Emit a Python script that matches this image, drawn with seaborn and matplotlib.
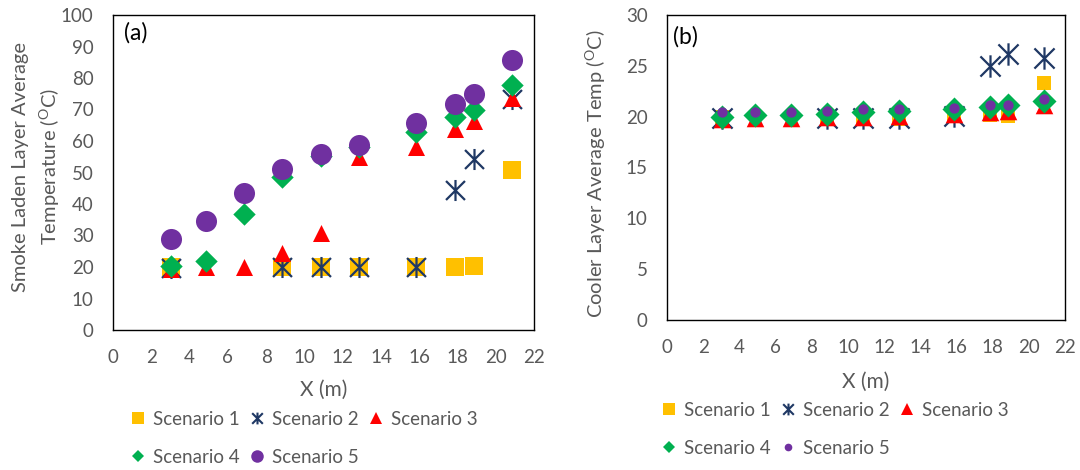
import numpy as np
import pandas as pd
import matplotlib
matplotlib.use("Agg")
import matplotlib.pyplot as plt
import seaborn as sns
from matplotlib.path import Path
from matplotlib.lines import Line2D

# ---------------- data ----------------
x_m = [3.05, 4.85, 6.85, 8.85, 10.85, 12.85, 15.85, 17.85, 18.85, 20.85]
scenarios = ["Scenario 1", "Scenario 2", "Scenario 3", "Scenario 4", "Scenario 5"]
nan = np.nan

# (a) smoke laden layer average temperature (degC)
smoke_s1 = [20.0, nan, nan, 20.0, 20.0, 20.0, 20.0, 19.9, 20.3, 50.7]
smoke_s2 = [19.6, nan, nan, 20.0, 20.0, 20.0, 20.0, 44.5, 54.2, 73.3]
smoke_s3 = [19.5, 20.0, 20.0, 24.3, 30.8, 55.0, 58.0, 63.8, 66.5, 73.8]
smoke_s4 = [20.4, 21.9, 36.7, 48.5, 55.3, 58.0, 63.0, 67.5, 69.8, 77.8]
smoke_s5 = [28.9, 34.5, 43.5, 51.0, 56.0, 58.8, 65.8, 71.8, 74.8, 85.8]

# (b) cooler layer average temperature (degC)
cool_s1 = [20.0, nan, nan, 20.0, 19.9, 19.8, 20.1, 20.2, 20.1, 23.3]
cool_s2 = [19.9, nan, nan, 19.9, 19.9, 19.9, 20.1, 25.0, 26.2, 25.8]
cool_s3 = [19.8, 19.9, 19.9, 20.0, 20.0, 20.1, 20.3, 20.5, 20.6, 21.1]
cool_s4 = [20.0, 20.2, 20.2, 20.3, 20.5, 20.6, 20.8, 21.0, 21.1, 21.5]
cool_s5 = [20.5, 20.5, 20.5, 20.6, 20.8, 20.8, 20.9, 21.1, 21.1, 21.7]

x_ticks = list(range(0, 23, 2))
ya_ticks = list(range(0, 101, 10))
yb_ticks = list(range(0, 31, 5))

# ---------------- style ----------------
sns.set_theme(style="white")
plt.rcParams['font.family'] = ['Lato', 'DejaVu Sans']
plt.rcParams['mathtext.default'] = 'regular'
GREY = "#595959"
FS = 13.5

colors = ["#FFC000", "#1F3864", "#FF0000", "#00B050", "#7030A0"]
star = Path([(0, -1), (0, 1), (-0.9, -0.9), (0.9, 0.9), (-0.9, 0.9), (0.9, -0.9)],
            [Path.MOVETO, Path.LINETO, Path.MOVETO, Path.LINETO, Path.MOVETO, Path.LINETO])
markers = ["s", star, "^", "D", "o"]

W, H = 1080, 470
fig = plt.figure(figsize=(W / 100, H / 100), dpi=100)

def px_axes(l, t, r, b):
    return fig.add_axes([l / W, 1 - b / H, (r - l) / W, (b - t) / H])

ax_a = px_axes(113, 15, 534, 330)
ax_b = px_axes(667, 15, 1065, 320)

sizes_a = [170, 230, 150, 130, 230]
sizes_b = [100, 260, 160, 150, 55]

def draw(ax, series, sizes):
    for i, vals in enumerate(series):
        df = pd.DataFrame({"x": x_m, "y": vals}).dropna()
        lw = 1.6 if i == 1 else 0
        sns.scatterplot(data=df, x="x", y="y", ax=ax, marker=markers[i], s=sizes[i],
                        color=colors[i], edgecolor=colors[i], linewidth=lw,
                        legend=False, zorder=3 + i)

draw(ax_a, [smoke_s1, smoke_s2, smoke_s3, smoke_s4, smoke_s5], sizes_a)
draw(ax_b, [cool_s1, cool_s2, cool_s3, cool_s4, cool_s5], sizes_b)

for ax, yt in [(ax_a, ya_ticks), (ax_b, yb_ticks)]:
    ax.set_xlim(0, 22)
    ax.set_ylim(yt[0], yt[-1])
    ax.set_xticks(x_ticks)
    ax.set_yticks(yt)
    ax.set_xlabel("")
    ax.set_ylabel("")
    for sp in ax.spines.values():
        sp.set_visible(True)
        sp.set_color("black")
        sp.set_linewidth(1.0)
    ax.tick_params(axis="both", direction="in", length=5, width=1, color="black",
                   labelcolor=GREY, labelsize=FS)
    ax.tick_params(axis="y", pad=14)
    ax.tick_params(axis="x", pad=14)
    ax.grid(False)

ax_a.text(0.027, 0.945, "(a)", transform=ax_a.transAxes, fontsize=16.5, color="black",
          ha="left", va="center")
ax_b.text(0.015, 0.93, "(b)", transform=ax_b.transAxes, fontsize=16.5, color="black",
          ha="left", va="center")

fig.text(37 / W, 1 - 167 / H, "Smoke Laden Layer Average\nTemperature ($^{O}$C)", rotation=90,
         ha="center", va="center", multialignment="center", fontsize=14.5, color=GREY,
         linespacing=1.45)
fig.text(596 / W, 1 - 174 / H, "Cooler Layer Average Temp ($^{O}$C)", rotation=90,
         ha="center", va="center", fontsize=14.5, color=GREY)
fig.text(324 / W, 1 - 390 / H, "X (m)", ha="center", va="center", fontsize=15, color=GREY)
fig.text(866 / W, 1 - 382 / H, "X (m)", ha="center", va="center", fontsize=15, color=GREY)

def handles(circle_ms):
    hs = []
    ms = [8.5, 8.5, 8.5, 6.5, circle_ms]
    for i in range(5):
        mew = 1.5 if i == 1 else 0
        hs.append(Line2D([], [], ls="", marker=markers[i], color=colors[i], ms=ms[i], mew=mew))
    return hs

order = [0, 3, 1, 4, 2]
ha_ = handles(9)
hb_ = handles(5.5)
for ax, hs, x0, y0 in [(ax_a, ha_, 129, 411), (ax_b, hb_, 660, 402)]:
    ax.legend([hs[k] for k in order], [scenarios[k] for k in order], ncol=3,
              loc="upper left", bbox_to_anchor=(x0 / W, 1 - y0 / H),
              bbox_transform=fig.transFigure, frameon=False, fontsize=13.5,
              labelcolor=GREY, handlelength=1.0, handletextpad=0.3,
              columnspacing=0.4, labelspacing=1.1, borderpad=0, borderaxespad=0)

fig.savefig("out.png", dpi=100)
